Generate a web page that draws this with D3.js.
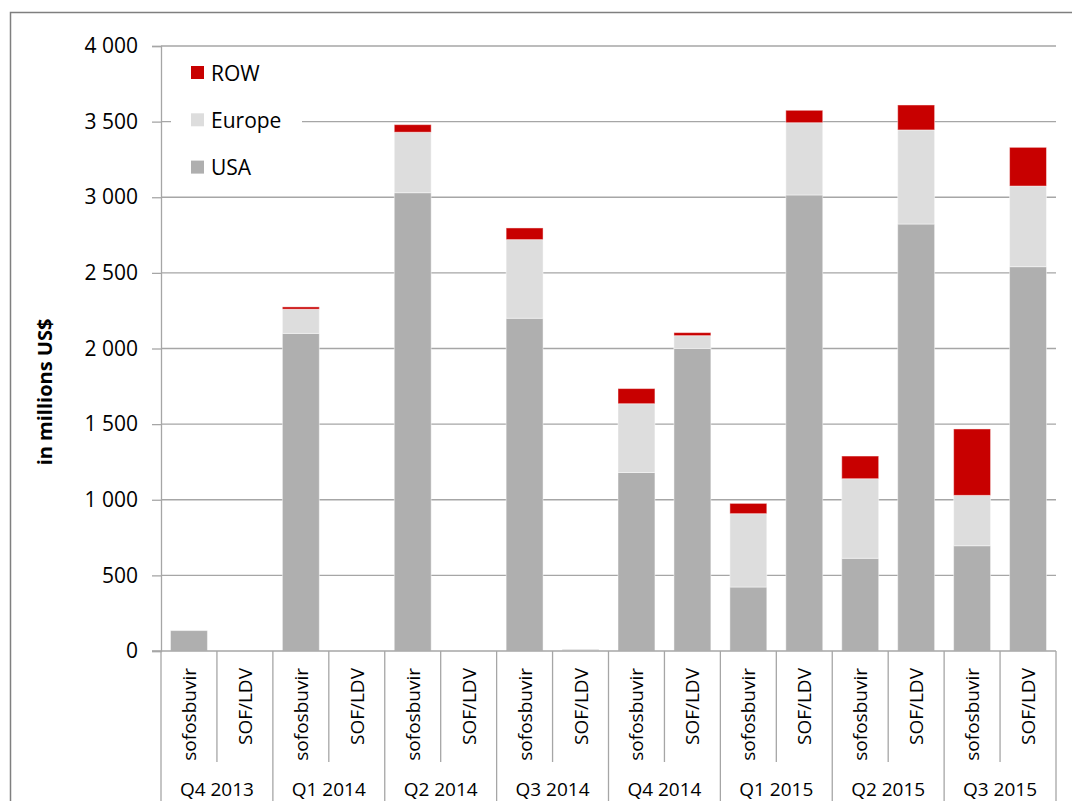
<!DOCTYPE html>
<html>
<head>
<meta charset="utf-8">
<script src="https://cdn.jsdelivr.net/npm/d3@7"></script>
<style>
  html, body { margin: 0; padding: 0; background: #fff; }
  svg { display: block; font-family: "Open Sans", sans-serif; }
</style>
</head>
<body>
<svg id="chart" width="1072" height="801"></svg>
<script>
// Quarterly sales (millions US$) by region, per product
const quarters = ["Q4 2013", "Q1 2014", "Q2 2014", "Q3 2014", "Q4 2014", "Q1 2015", "Q2 2015", "Q3 2015"];
const products = ["sofosbuvir", "SOF/LDV"];
const usa    = [135, 0, 2100, 0, 3030, 0, 2200, 3, 1180, 2000, 423, 3015, 613, 2823, 696, 2541];
const europe = [0,   0, 160,  0, 400,  0, 520, 10, 455,  85,   485, 478,  526, 622,  333, 533];
const row    = [0,   0, 15,   0, 50,   0, 77,   0, 100,  20,   68,  82,   150, 165,  439, 256];
const yTicks = [0, 500, 1000, 1500, 2000, 2500, 3000, 3500, 4000];
const seriesNames = ["USA", "Europe", "ROW"];
const seriesColors = { USA: "#afafaf", Europe: "#dddddd", ROW: "#c80000" };

const svg = d3.select("#chart");
const plotLeft = 161, plotRight = 1056, plotTop = 46, zeroY = 651;

// one row per bar: quarter x product
const rows = [];
quarters.forEach((q, qi) => products.forEach((p, pi) => {
  const i = qi * products.length + pi;
  rows.push({ id: i, quarter: q, product: p, USA: usa[i], Europe: europe[i], ROW: row[i] });
}));

const x = d3.scaleBand().domain(rows.map(d => d.id)).range([plotLeft, plotRight]).paddingInner(0.34).paddingOuter(0.17);
const step = x.step();
const y = d3.scaleLinear().domain([0, 4000]).range([zeroY, plotTop]);
const fmt = d3.formatLocale({ decimal: ".", thousands: " ", grouping: [3], currency: ["", ""] }).format(",");

// outer frame
svg.append("rect").attr("x", 10.5).attr("y", 12.5).attr("width", 1200).attr("height", 1000)
  .attr("fill", "none").attr("stroke", "#7f7f7f").attr("stroke-width", 1.5);

// horizontal gridlines
svg.append("g").selectAll("line").data(yTicks.filter(t => t > 0)).join("line")
  .attr("x1", plotLeft).attr("x2", plotRight)
  .attr("y1", d => y(d)).attr("y2", d => y(d))
  .attr("stroke", "#a6a6a6").attr("stroke-width", 1.3);

// y axis
const yAxis = svg.append("g").attr("transform", `translate(${plotLeft},0)`)
  .call(d3.axisLeft(y).tickValues(yTicks).tickFormat(fmt).tickSize(9).tickPadding(14));
yAxis.select(".domain").attr("stroke", "#a6a6a6").attr("stroke-width", 1.3);
yAxis.selectAll(".tick line").attr("stroke", "#a6a6a6").attr("stroke-width", 1.3);
yAxis.selectAll(".tick text").attr("font-size", 21).attr("fill", "#000").attr("font-family", "Open Sans, sans-serif");

svg.append("text")
  .attr("transform", "translate(44,392) rotate(-90)")
  .attr("text-anchor", "middle").attr("dominant-baseline", "central")
  .attr("font-weight", "bold").attr("font-size", 20).attr("fill", "#000")
  .text("in millions US$");

// stacked bars
const stacked = d3.stack().keys(seriesNames)(rows);
svg.append("g").selectAll("g").data(stacked).join("g")
  .attr("fill", s => seriesColors[s.key])
  .selectAll("rect").data(s => s.filter(d => d[1] - d[0] > 0)).join("rect")
  .attr("x", d => x(d.data.id)).attr("width", x.bandwidth())
  .attr("y", d => y(d[1])).attr("height", d => y(d[0]) - y(d[1]))
  .attr("stroke", "rgba(255,255,255,0.45)").attr("stroke-width", 1);

// category axis: baseline, dividers, labels
const catG = svg.append("g");
catG.append("line").attr("x1", plotLeft - 9).attr("x2", plotRight).attr("y1", zeroY).attr("y2", zeroY)
  .attr("stroke", "#a6a6a6").attr("stroke-width", 1.3);
const dividers = d3.range(rows.length + 1);
catG.selectAll("line.div").data(dividers).join("line").attr("class", "div")
  .attr("x1", i => plotLeft + i * step).attr("x2", i => plotLeft + i * step)
  .attr("y1", zeroY).attr("y2", i => (i % products.length === 0) ? 801 : 762)
  .attr("stroke", "#a6a6a6").attr("stroke-width", 1.3);

catG.selectAll("text.prod").data(rows).join("text").attr("class", "prod")
  .attr("transform", d => `translate(${x(d.id) + x.bandwidth() / 2},668) rotate(-90)`)
  .attr("text-anchor", "end").attr("dominant-baseline", "central")
  .attr("font-size", 19).attr("fill", "#000")
  .text(d => d.product);

catG.selectAll("text.q").data(quarters).join("text").attr("class", "q")
  .attr("x", (q, qi) => plotLeft + (qi + 0.5) * products.length * step)
  .attr("y", 796)
  .attr("text-anchor", "middle").attr("font-size", 19).attr("fill", "#000")
  .text(q => q);

// legend
const legend = svg.append("g");
legend.append("rect").attr("x", 171).attr("y", 52).attr("width", 131).attr("height", 138).attr("fill", "#fff");
const legendOrder = ["ROW", "Europe", "USA"];
const li = legend.selectAll("g").data(legendOrder).join("g")
  .attr("transform", (d, i) => `translate(191,${66 + i * 47.3})`);
li.append("rect").attr("width", 13).attr("height", 13).attr("fill", d => seriesColors[d]);
li.append("text").attr("x", 20).attr("y", 6.5).attr("dominant-baseline", "central")
  .attr("font-size", 21).attr("fill", "#000").text(d => d);
</script>
</body>
</html>
